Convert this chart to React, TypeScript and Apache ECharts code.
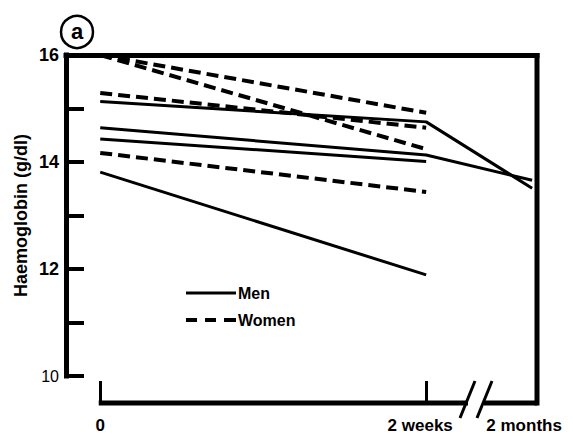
import React, { useEffect, useRef } from "react";
import * as echarts from "echarts";

// Time points (broken axis: 0, 2 weeks, 2 months)
const timePoints = [0, 2, 2.65];
const timeLabels = ["0", "2 weeks", "2 months"];

// Haemoglobin (g/dl) per subject
const men1 = [15.13, 14.75, 13.51];
const men2 = [14.64, 14.13, 13.66];
const men3 = [14.43, 14.01];
const men4 = [13.81, 11.89];
const women1 = [16.0, 14.92];
const women2 = [16.0, 14.24];
const women3 = [15.29, 14.64];
const women4 = [14.17, 13.44];

const menSeries = [men1, men2, men3, men4];
const womenSeries = [women1, women2, women3, women4];

const yTicks = [10, 11, 12, 13, 14, 15, 16];

const FONT = "Liberation Sans";

function toPairs(vals: number[]) {
  return vals.map((v, i) => [timePoints[i], v]);
}

export default function App() {
  const ref = useRef<HTMLDivElement>(null);
  useEffect(() => {
    if (!ref.current) return;
    const chart = echarts.init(ref.current, null, { renderer: "svg" });
    const series: any[] = [];
    menSeries.forEach((s) =>
      series.push({
        name: "Men",
        type: "line",
        data: toPairs(s),
        symbol: "none",
        color: "#000",
        lineStyle: { color: "#000", width: 3, type: "solid" },
        xAxisIndex: 0,
      })
    );
    womenSeries.forEach((s) =>
      series.push({
        name: "Women",
        type: "line",
        data: toPairs(s),
        symbol: "none",
        color: "#000",
        lineStyle: { color: "#000", width: 4, type: [12, 6] },
        xAxisIndex: 0,
      })
    );
    const xMin = -0.21;
    const xMax = 2.68;
    chart.setOption({
      animation: false,
      backgroundColor: "#fff",
      grid: { left: 66, right: 36, top: 55, bottom: 63, containLabel: false, outerBoundsMode: "none" },
      legend: {
        data: [
          { name: "Men", icon: "path://M0,0h50v3h-50z" },
          { name: "Women", icon: "path://M0,0h11v4h-11zM19,0h11v4h-11zM38,0h12v4h-12z" },
        ],
        orient: "vertical",
        left: 186,
        top: 285,
        itemWidth: 50,
        itemHeight: 4,
        itemGap: 11,
        padding: 0,
        selectedMode: false,
        itemStyle: { color: "#000", borderWidth: 0 },
        lineStyle: { width: 0 },
        textStyle: { color: "#000", fontSize: 16, fontWeight: "bold", fontFamily: FONT, padding: [0, 0, 0, -3] },
      },
      xAxis: [
        {
          type: "value",
          min: xMin,
          max: xMax,
          position: "bottom",
          offset: 27,
          axisLine: { show: false, onZero: false },
          splitLine: { show: false },
          axisTick: {
            show: true,
            inside: true,
            length: 22,
            customValues: [timePoints[0], timePoints[1]],
            lineStyle: { color: "#000", width: 3 },
          },
          axisLabel: {
            customValues: timePoints,
            formatter: (v: number) => {
              const i = timePoints.findIndex((t) => Math.abs(t - v) < 1e-6);
              if (i === 1) return "{w|" + timeLabels[1] + "}";
              if (i === 2) return "{m|" + timeLabels[2] + "}";
              return i >= 0 ? timeLabels[i] : "";
            },
            color: "#000",
            fontSize: 17,
            fontWeight: "bold",
            fontFamily: FONT,
            margin: 14,
            rich: {
              w: { fontSize: 17, fontWeight: "bold", fontFamily: FONT, color: "#000", padding: [0, 12, 0, 0] },
              m: { fontSize: 17, fontWeight: "bold", fontFamily: FONT, color: "#000", padding: [0, 16, 0, 0] },
            },
          },
        },
        {
          type: "value",
          min: xMin,
          max: xMax,
          position: "top",
          axisLine: { show: true, onZero: false, lineStyle: { color: "#000", width: 5, cap: "square" } },
          axisTick: { show: false },
          axisLabel: { show: false },
          splitLine: { show: false },
        },
      ],
      yAxis: {
        type: "value",
        min: 10,
        max: 16,
        interval: 1,
        position: "left",
        name: "Haemoglobin (g/dl)",
        nameLocation: "middle",
        nameGap: 36,
        nameMoveOverlap: false,
        nameTextStyle: { color: "#000", fontSize: 18, fontWeight: "bold", fontFamily: FONT },
        axisLine: { show: true, onZero: false, lineStyle: { color: "#000", width: 5, cap: "square" } },
        axisTick: { show: true, inside: true, length: 18, lineStyle: { color: "#000", width: 4 } },
        splitLine: { show: false },
        axisLabel: {
          color: "#000",
          fontSize: 18,
          fontWeight: "bold",
          fontFamily: FONT,
          margin: 7,
          formatter: (v: number) => {
            if (!yTicks.includes(v)) return "";
            if (v === 10) return "{s|10}";
            return v % 2 === 0 ? String(v) : "";
          },
          rich: {
            s: { fontSize: 16, fontWeight: "normal", fontFamily: FONT, color: "#000" },
          },
        },
      },
      series,
    });

    const x0 = chart.convertToPixel({ xAxisIndex: 0 }, timePoints[0]) as number;
    const xR = 573 - 36;
    const yb = 376 + 27;
    chart.setOption({
      graphic: [
        { type: "rect", shape: { x: xR - 2.5, y: 53, width: 5, height: yb + 2.5 - 53 }, style: { fill: "#000" } },
        { type: "rect", shape: { x: x0 - 1.5, y: yb - 2.5, width: 468 - (x0 - 1.5), height: 5 }, style: { fill: "#000" } },
        { type: "rect", shape: { x: 484, y: yb - 2.5, width: xR - 484, height: 5 }, style: { fill: "#000" } },
        { type: "line", shape: { x1: 475, y1: 381, x2: 460, y2: 418 }, style: { stroke: "#000", lineWidth: 3 } },
        { type: "line", shape: { x1: 492, y1: 381, x2: 477, y2: 418 }, style: { stroke: "#000", lineWidth: 3 } },
        { type: "circle", shape: { cx: 77, cy: 32, r: 16 }, style: { stroke: "#000", fill: "none", lineWidth: 2.5 } },
        {
          type: "text",
          x: 77,
          y: 31,
          style: {
            text: "a",
            fill: "#000",
            font: `bold 22px ${FONT}`,
            align: "center",
            verticalAlign: "middle",
          },
        },
      ],
    });
    return () => chart.dispose();
  }, []);
  return <div ref={ref} style={{ width: 573, height: 439, margin: -8 }} />;
}
